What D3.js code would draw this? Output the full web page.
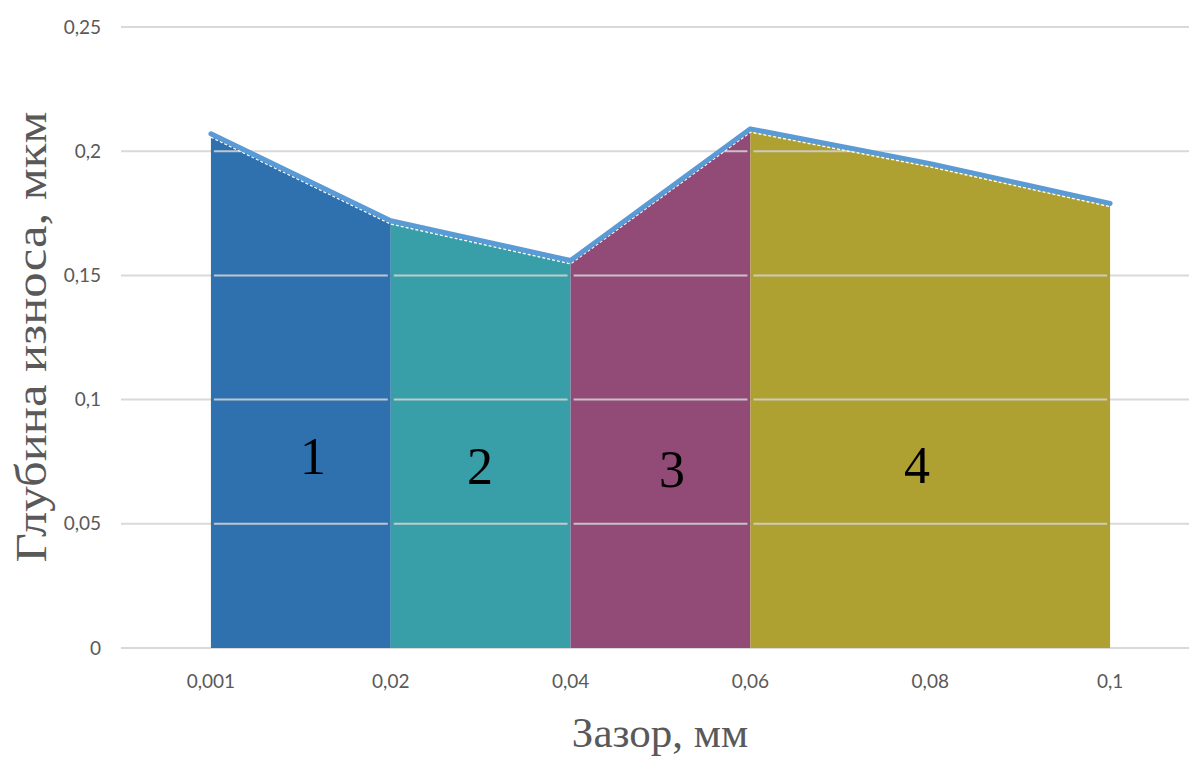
<!DOCTYPE html>
<html>
<head>
<meta charset="utf-8">
<script src="https://cdn.jsdelivr.net/npm/d3@7/dist/d3.min.js"></script>
<style>
  html, body { margin: 0; padding: 0; background: #fff; }
  svg { display: block; }
</style>
</head>
<body>
<svg id="chart" width="1189" height="760"></svg>
<script>
// ---- data ----
const categories = ["0,001", "0,02", "0,04", "0,06", "0,08", "0,1"];
const depth = [0.207, 0.172, 0.156, 0.209, 0.195, 0.179];
const yTicks = [0, 0.05, 0.1, 0.15, 0.2, 0.25];
const zoneLabels = ["1", "2", "3", "4"];
// zone index ranges (start category index, end category index)
const zoneStart = [0, 1, 2, 3];
const zoneEnd = [1, 2, 3, 5];
const zoneColors = ["#2E71AE", "#389EA8", "#924A77", "#AFA032"];
const xTitle = "Зазор, мм";
const yTitle = "Глубина износа, мкм";

// ---- layout ----
const W = 1189, H = 760;
const plotLeft = 121, plotRight = 1200, plotTop = 27, plotBottom = 648;

const svg = d3.select("#chart");

const x = d3.scalePoint().domain(categories).range([plotLeft, plotRight]).padding(0.5);
const y = d3.scaleLinear().domain([0, 0.25]).range([plotBottom, plotTop]);

const pts = categories.map((c, i) => ({ c, v: depth[i] }));

// gridlines (behind)
const grid = svg.append("g");
grid.selectAll("line").data(yTicks).join("line")
  .attr("x1", plotLeft).attr("x2", W)
  .attr("y1", d => y(d)).attr("y2", d => y(d))
  .attr("stroke", "#d9d9d9").attr("stroke-width", 2);

// areas
const area = d3.area().x(d => x(d.c)).y0(y(0)).y1(d => y(d.v) + 2);
const defs = svg.append("defs");
const zones = zoneLabels.map((lab, k) => ({
  lab, k, data: pts.slice(zoneStart[k], zoneEnd[k] + 1)
}));

zones.forEach(z => {
  defs.append("clipPath").attr("id", "clip" + z.k)
    .append("path").attr("d", area(z.data));
  svg.append("path").attr("d", area(z.data)).attr("fill", zoneColors[z.k]);
  const x0 = x(z.data[0].c), x1 = x(z.data[z.data.length - 1].c);
  svg.append("g").attr("clip-path", "url(#clip" + z.k + ")")
    .selectAll("line").data(yTicks.filter(t => t > 0)).join("line")
    .attr("x1", x0 + 3).attr("x2", x1 - 3)
    .attr("y1", d => y(d)).attr("y2", d => y(d))
    .attr("stroke", "#cfcfcf").attr("stroke-opacity", 0.9).attr("stroke-width", 2);
});

// white dashed edge under the line
const edge = d3.line().x(d => x(d.c)).y(d => y(d.v) + 3.2);
svg.append("path").attr("d", edge(pts))
  .attr("fill", "none").attr("stroke", "#ffffff").attr("stroke-width", 1.6)
  .attr("stroke-dasharray", "3,2");

// line
const line = d3.line().x(d => x(d.c)).y(d => y(d.v));
svg.append("path").attr("d", line(pts))
  .attr("fill", "none").attr("stroke", "#5B9BD5").attr("stroke-width", 5)
  .attr("stroke-linejoin", "round").attr("stroke-linecap", "round");

// y tick labels
svg.append("g").selectAll("text").data(yTicks).join("text")
  .attr("x", 101).attr("y", d => y(d))
  .attr("dy", "0.35em").attr("text-anchor", "end")
  .attr("font-family", "Lato, 'Open Sans', sans-serif").attr("font-size", 19)
  .attr("fill", "#595959")
  .text(d => d === 0 ? "0" : String(d).replace(".", ","));

// x tick labels
svg.append("g").selectAll("text").data(categories).join("text")
  .attr("x", d => x(d)).attr("y", 681)
  .attr("dy", "0.35em").attr("text-anchor", "middle")
  .attr("font-family", "Lato, 'Open Sans', sans-serif").attr("font-size", 19)
  .attr("fill", "#595959")
  .text(d => d);

// zone labels
const zonePos = [[313, 474], [480, 484], [672, 487], [917, 483]];
svg.append("g").selectAll("text").data(zones).join("text")
  .attr("x", d => zonePos[d.k][0]).attr("y", d => zonePos[d.k][1])
  .attr("text-anchor", "middle")
  .attr("font-family", "'Liberation Serif', 'Times New Roman', serif")
  .attr("font-size", 52).attr("fill", "#000")
  .text(d => d.lab);

// axis titles
svg.append("text").attr("x", 660).attr("y", 747)
  .attr("text-anchor", "middle")
  .attr("font-family", "'Liberation Serif', 'Times New Roman', serif")
  .attr("font-size", 43).attr("fill", "#595959")
  .text(xTitle);

svg.append("text")
  .attr("transform", "translate(46,337) rotate(-90)")
  .attr("text-anchor", "middle")
  .attr("font-family", "'Liberation Serif', 'Times New Roman', serif")
  .attr("font-size", 44).attr("fill", "#595959")
  .attr("textLength", 451).attr("lengthAdjust", "spacingAndGlyphs")
  .text(yTitle);
</script>
</body>
</html>
